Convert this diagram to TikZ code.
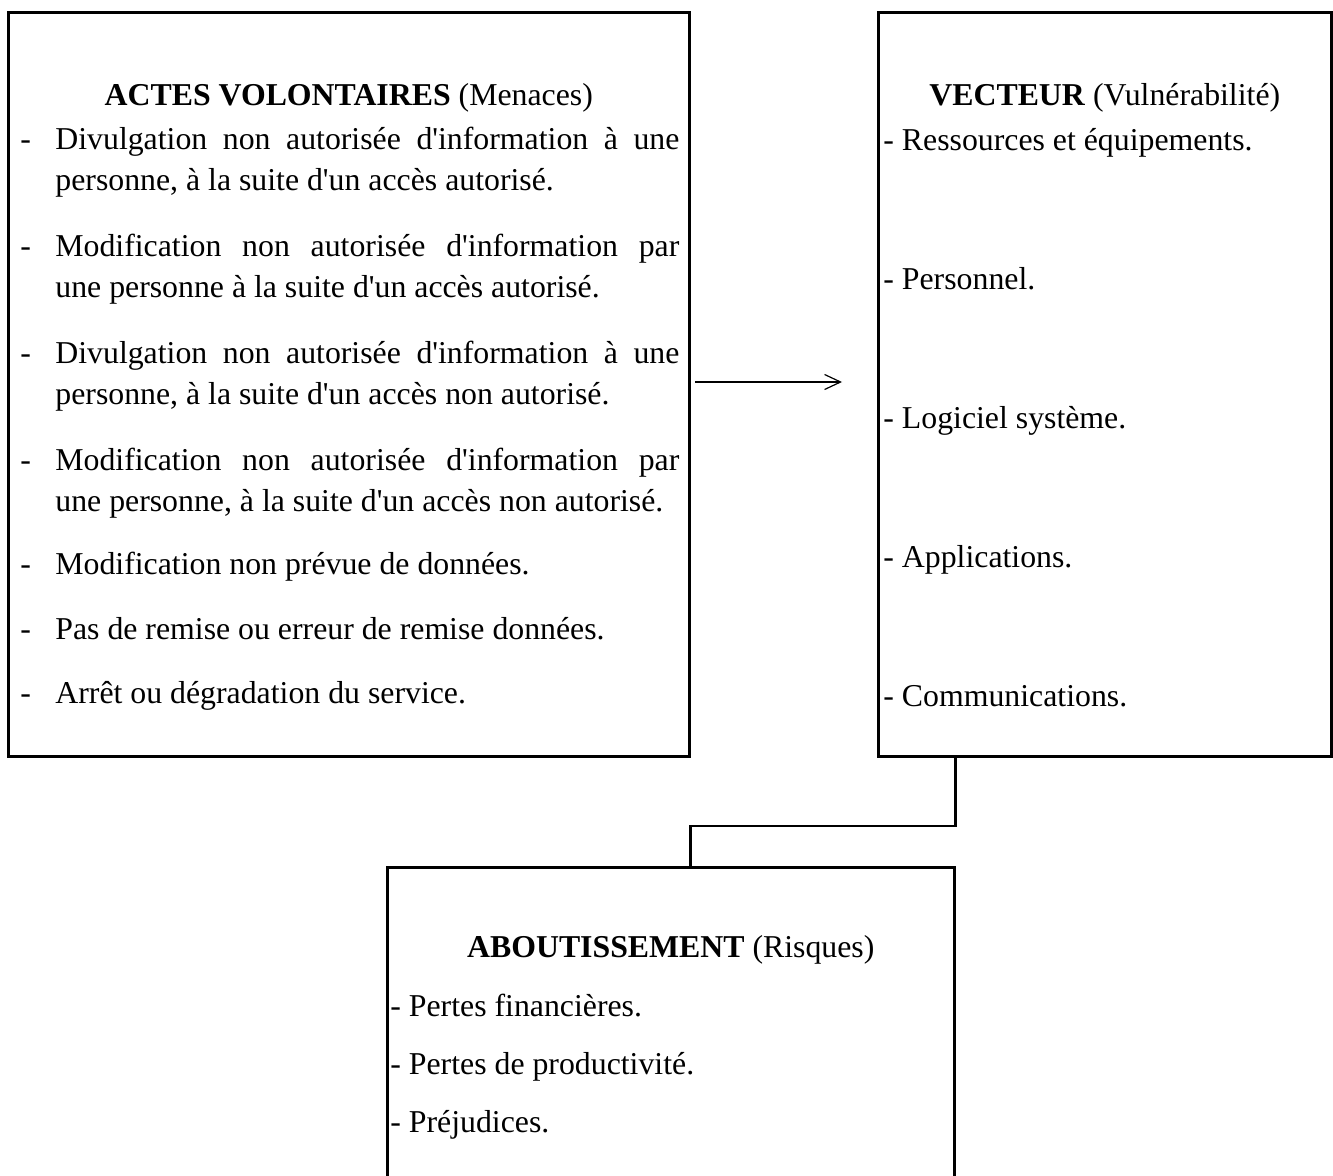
\documentclass[tikz,border=0pt]{standalone}
\usepackage{fontspec}
\setmainfont{Liberation Serif}
\usetikzlibrary{arrows.meta}
\newcommand\apos{\textquotesingle}
\begin{document}
\begin{tikzpicture}[x=0.5pt,y=-0.5pt,
  frame/.style={draw, line width=1.3pt, rectangle, anchor=north west, inner sep=0pt},
  link/.style={line width=1.3pt},
  txt/.style={font=\fontsize{15.9pt}{20.5pt}\selectfont, inner sep=0pt, anchor=base west},
  heading/.style={txt, anchor=base},
  dashmark/.style={txt},
  item/.style={txt, text width=312pt, align=justify}]
\useasboundingbox (0,0) rectangle (1333,1176);

% the three frames (the lower one runs past the bottom edge)
\node[frame, minimum width=340.5pt, minimum height=372pt] (actes) at (7,11) {};
\node[frame, minimum width=226.5pt, minimum height=372pt] (vecteur) at (877,11) {};
\node[frame, minimum width=283.5pt, minimum height=220pt] (risques) at (386,866) {};

% left frame: threats
\node[heading] (tA) at (actes.north |- 0,106) {\textbf{ACTES VOLONTAIRES} (Menaces)};
\node[dashmark] (d1) at (20,150) {-};
\node[item] (a1) at (55,150) {Divulgation non autorisée d\apos information à une\linebreak personne, à la suite d\apos un accès autorisé.};
\node[dashmark] (d2) at (20,257) {-};
\node[item] (a2) at (55,257) {Modification non autorisée d\apos information par\linebreak une personne à la suite d\apos un accès autorisé.};
\node[dashmark] (d3) at (20,364) {-};
\node[item] (a3) at (55,364) {Divulgation non autorisée d\apos information à une\linebreak personne, à la suite d\apos un accès non autorisé.};
\node[dashmark] (d4) at (20,471) {-};
\node[item] (a4) at (55,471) {Modification non autorisée d\apos information par\linebreak une personne, à la suite d\apos un accès non autorisé.};
\node[dashmark] (d5) at (20,574) {-};
\node[item] (a5) at (55,574) {Modification non prévue de données.};
\node[dashmark] (d6) at (20,639) {-};
\node[item] (a6) at (55,639) {Pas de remise ou erreur de remise données.};
\node[dashmark] (d7) at (20,703) {-};
\node[item] (a7) at (55,703) {Arrêt ou dégradation du service.};

% right frame: vulnerability
\node[heading] (tV) at (vecteur.north |- 0,106) {\textbf{VECTEUR} (Vulnérabilité)};
\node[txt] (v1) at (883,151) {- Ressources et équipements.};
\node[txt] (v2) at (883,290) {- Personnel.};
\node[txt] (v3) at (883,429) {- Logiciel système.};
\node[txt] (v4) at (883,567) {- Applications.};
\node[txt] (v5) at (883,706) {- Communications.};

% lower frame: risks
\node[heading] (tR) at (risques.north |- 0,957) {\textbf{ABOUTISSEMENT} (Risques)};
\node[txt] (r1) at (390,1016) {- Pertes financières.};
\node[txt] (r2) at (390,1074) {- Pertes de productivité.};
\node[txt] (r3) at (390,1132) {- Préjudices.};

% arrow between the upper frames
\coordinate (arrowtail) at (695,382);
\coordinate (arrowhead) at (842,382);
\draw[line width=0.6pt, -{Straight Barb[length=8pt, width=7.5pt, line width=0.6pt]}] (arrowtail) -- (arrowhead);

% elbow link from the right frame down to the lower frame
\coordinate (jog) at (actes.east |- 0,826);
\draw[link] (vecteur.south -| risques.north east) |- (jog) -- (jog |- risques.north);
\end{tikzpicture}
\end{document}
